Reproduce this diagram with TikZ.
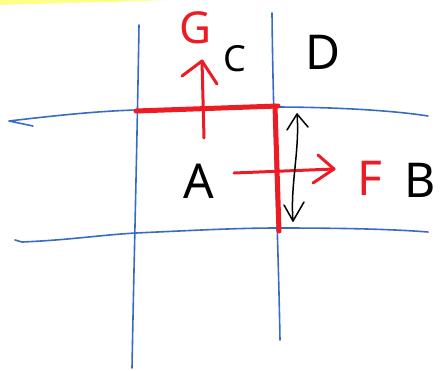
\documentclass[tikz,border=0pt]{standalone}
\usepackage{fontspec}
\setmainfont{Noto Sans}
\usetikzlibrary{arrows.meta}
\definecolor{penblue}{HTML}{3A6BC4}
\definecolor{penred}{HTML}{ED1C24}
\definecolor{hilite}{HTML}{FFFF88}
\begin{document}
\begin{tikzpicture}[x=1pt,y=-1pt,
  gridline/.style={penblue,line width=1.6pt,line cap=round,line join=round},
  redbar/.style={penred,line width=5pt,line cap=round,line join=round},
  redarrow/.style={penred,line width=3pt,line cap=round,line join=round},
  blackarrow/.style={black,line width=1.5pt,line cap=round,line join=round},
  lettr/.style={inner sep=0pt,font=\fontsize{48}{48}\selectfont},
]
\useasboundingbox (0,0) rectangle (441,370);
% highlight
\fill[hilite] (0,0) -- (168,0) .. controls (120,2) and (60,3) .. (0,5) -- cycle;
% grid lines
\draw[gridline] (139,25) .. controls (137,150) and (134,260) .. (132,368);
\draw[gridline] (272,13) .. controls (273,120) and (278,230) .. (280,340);
\draw[gridline] (33,126) -- (9,121) .. controls (60,115) and (100,111) .. (136,110)
  .. controls (200,108) and (240,107) .. (272,107) .. controls (330,107) and (390,110) .. (428,116);
\draw[gridline] (15,240) -- (22,242) .. controls (70,240) and (100,235) .. (136,233)
  .. controls (200,230) and (240,228) .. (278,228) .. controls (340,228) and (390,229) .. (428,232);
% red L
\coordinate (l1) at (136,111);
\coordinate (l2) at (278,106);
\coordinate (l3) at (279,231);
\draw[redbar] (l1) -- (l2);
\draw[redbar] (275,106) -- (l3);
% arrow G
\coordinate (g0) at (204,138);
\coordinate (g1) at (202,61);
\draw[redarrow] (g0) -- (g1);
\draw[redarrow] (182,76) -- (g1) -- (217,84);
% arrow F
\coordinate (f0) at (234,173);
\coordinate (f1) at (334,169);
\draw[redarrow] (f0) -- (f1);
\draw[redarrow] (318,155) -- (f1) -- (313,183);
% double arrow
\coordinate (d0) at (297,114);
\coordinate (d1) at (293,221);
\draw[blackarrow] (d0) .. controls (300,150) and (290,185) .. (d1);
\draw[blackarrow] (287,130) -- (d0) -- (308,127);
\draw[blackarrow] (284,205) -- (d1) -- (304,202);
% letters
\node[lettr,text=penred,font=\fontsize{44}{44}\selectfont] (G) at (196,28) {G};
\node[lettr,font=\fontsize{36}{36}\selectfont] (C) at (235,59) {C};
\node[lettr] (D) at (323,52) {D};
\node[lettr] (A) at (199,181) {A};
\node[lettr,text=penred] (F) at (370,178) {F};
\node[lettr] (B) at (420,180) {B};
\end{tikzpicture}
\end{document}
